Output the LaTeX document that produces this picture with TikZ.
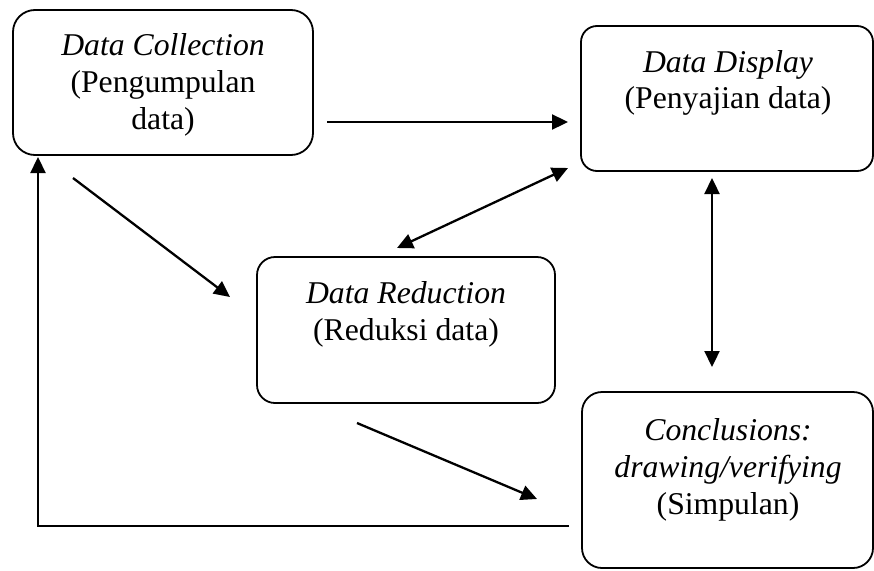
\documentclass[tikz,border=0pt]{standalone}
\usepackage{fontspec}
\setmainfont{Liberation Serif}
\usetikzlibrary{arrows.meta}
\begin{document}
\begin{tikzpicture}[x=1pt,y=-1pt,
  box/.style={draw,line width=1.8pt,rounded corners=#1,inner sep=0pt},
  box/.default=18pt,
  txt/.style={anchor=base,inner sep=0pt,font=\fontsize{31.7}{37}\selectfont},
  tip/.tip={Triangle[length=16pt,width=15pt]},
  arr/.style={line width=2.3pt,-tip},
  darr/.style={line width=2.3pt,tip-tip}
]
\useasboundingbox (0,0) rectangle (874,570);
% boxes
\node[box=22pt,minimum width=300pt,minimum height=145pt] (coll) at (163,82.5) {};
\node[box=16pt,minimum width=292pt,minimum height=145pt] (disp) at (727,98.5) {};
\node[box=18pt,minimum width=298pt,minimum height=146pt] (red) at (406,330) {};
\node[box=20pt,minimum width=291pt,minimum height=176pt] (conc) at (727.5,480) {};
% texts
\node[txt] (coll1) at (163,55) {\itshape Data Collection};
\node[txt] (coll2) at (163,92) {(Pengumpulan};
\node[txt] (coll3) at (163,129) {data)};
\node[txt] (disp1) at (728,72) {\itshape Data Display};
\node[txt] (disp2) at (728,108) {(Penyajian data)};
\node[txt] (red1) at (406,303) {\itshape Data Reduction};
\node[txt] (red2) at (406,340) {(Reduksi data)};
\node[txt] (conc1) at (728,440) {\itshape Conclusions:};
\node[txt] (conc2) at (728,477) {\itshape drawing/verifying};
\node[txt] (conc3) at (728,514) {(Simpulan)};
% connector end points
\coordinate (a1s) at (327,122);
\coordinate (a1e) at (568,122);
\coordinate (a2s) at (397,248);
\coordinate (a2e) at (568,168);
\coordinate (a3s) at (73,178);
\coordinate (a3e) at (230,297);
\coordinate (a4s) at (712,178);
\coordinate (a4e) at (712,367);
\coordinate (a5s) at (357,423);
\coordinate (a5e) at (537,499);
\coordinate (fbs) at (569,526);
\coordinate (fbe) at (38,157);
% connectors
\draw[arr] (a1s) -- (a1e);
\draw[darr] (a2s) -- (a2e);
\draw[arr] (a3s) -- (a3e);
\draw[darr] (a4s) -- (a4e);
\draw[arr] (a5s) -- (a5e);
\draw[arr] (fbs) -| (fbe);
\end{tikzpicture}
\end{document}
